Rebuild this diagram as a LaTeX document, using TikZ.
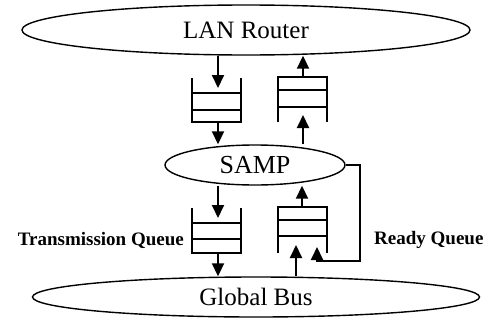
\documentclass[tikz,border=0pt]{standalone}
\usepackage{fontspec}
\setmainfont{Liberation Serif}
\usetikzlibrary{shapes.geometric,arrows.meta,calc}
\tikzset{
  oval/.style={draw,ellipse,line width=1.4pt,inner sep=0pt},
  qbox/.style={inner sep=0pt,minimum width=49pt},
  qline/.style={line width=1.5pt},
  arr/.style={line width=1.9pt,-{Triangle[length=13pt,width=12pt]}},
  lbl/.style={font=\fontsize{19}{21}\selectfont\bfseries,inner sep=0pt}
}
\begin{document}
\begin{tikzpicture}[x=1pt,y=-1pt]
\useasboundingbox (0,0) rectangle (489,324);
\node[oval,minimum width=448pt,minimum height=50pt,font=\fontsize{25}{27}\selectfont] (lan) at (246,30) {LAN Router};
\node[oval,minimum width=180pt,minimum height=40pt,font=\fontsize{26}{28}\selectfont] (samp) at (255,165) {SAMP};
\node[oval,minimum width=447pt,minimum height=40pt,font=\fontsize{25}{27}\selectfont] (bus) at (256,297) {Global Bus};
% queues
\node[qbox,minimum height=44pt] (q1) at (216.5,100) {};
\node[qbox,minimum height=45pt] (q2) at (302.5,99.5) {};
\node[qbox,minimum height=45pt] (q3) at (216.5,230.5) {};
\node[qbox,minimum height=46pt] (q4) at (302.5,230) {};
% q1: open top
\draw[qline] (q1.north west) -- (q1.south west) -- (q1.south east) -- (q1.north east);
\draw[qline] ($(q1.north west)!0.34!(q1.south west)$) -- ($(q1.north east)!0.34!(q1.south east)$);
\draw[qline] ($(q1.north west)!0.73!(q1.south west)$) -- ($(q1.north east)!0.73!(q1.south east)$);
% q2: open bottom
\draw[qline] (q2.south west) -- (q2.north west) -- (q2.north east) -- (q2.south east);
\draw[qline] ($(q2.north west)!0.29!(q2.south west)$) -- ($(q2.north east)!0.29!(q2.south east)$);
\draw[qline] ($(q2.north west)!0.67!(q2.south west)$) -- ($(q2.north east)!0.67!(q2.south east)$);
% q3: open top
\draw[qline] (q3.north west) -- (q3.south west) -- (q3.south east) -- (q3.north east);
\draw[qline] ($(q3.north west)!0.33!(q3.south west)$) -- ($(q3.north east)!0.33!(q3.south east)$);
\draw[qline] ($(q3.north west)!0.69!(q3.south west)$) -- ($(q3.north east)!0.69!(q3.south east)$);
% q4: open bottom
\draw[qline] (q4.south west) -- (q4.north west) -- (q4.north east) -- (q4.south east);
\draw[qline] ($(q4.north west)!0.28!(q4.south west)$) -- ($(q4.north east)!0.28!(q4.south east)$);
\draw[qline] ($(q4.north west)!0.63!(q4.south west)$) -- ($(q4.north east)!0.63!(q4.south east)$);
% arrow end points
\coordinate (q1in) at (218,88);
\coordinate (q2in) at (303,115);
\coordinate (q3in) at (218,218);
\coordinate (q4in) at (296,245);
\coordinate (q4fb) at (317,247);
\coordinate (fb) at (360,261);
% connectors
\draw[arr] (lan.south -| q1in) -- (q1in);
\draw[arr] (q1.south -| q1in) -- (samp.north -| q1in);
\draw[arr] (samp.north -| q2in) -- (q2in);
\draw[arr] (q2.north -| q2in) -- (lan.south -| q2in);
\draw[arr] (samp.south -| q3in) -- (q3in);
\draw[arr] (q3.south -| q3in) -- (bus.north -| q3in);
\draw[arr] (q4.north -| 302,0) -- (samp.south -| 302,0);
\draw[arr] (bus.north -| q4in) -- (q4in);
\draw[arr] (samp.east) -| (fb) -| (q4fb);
% labels
\node[lbl,anchor=east] (tq) at (184,240) {Transmission Queue};
\node[lbl,anchor=west] (rq) at (374,240) {Ready Queue};
\end{tikzpicture}
\end{document}
